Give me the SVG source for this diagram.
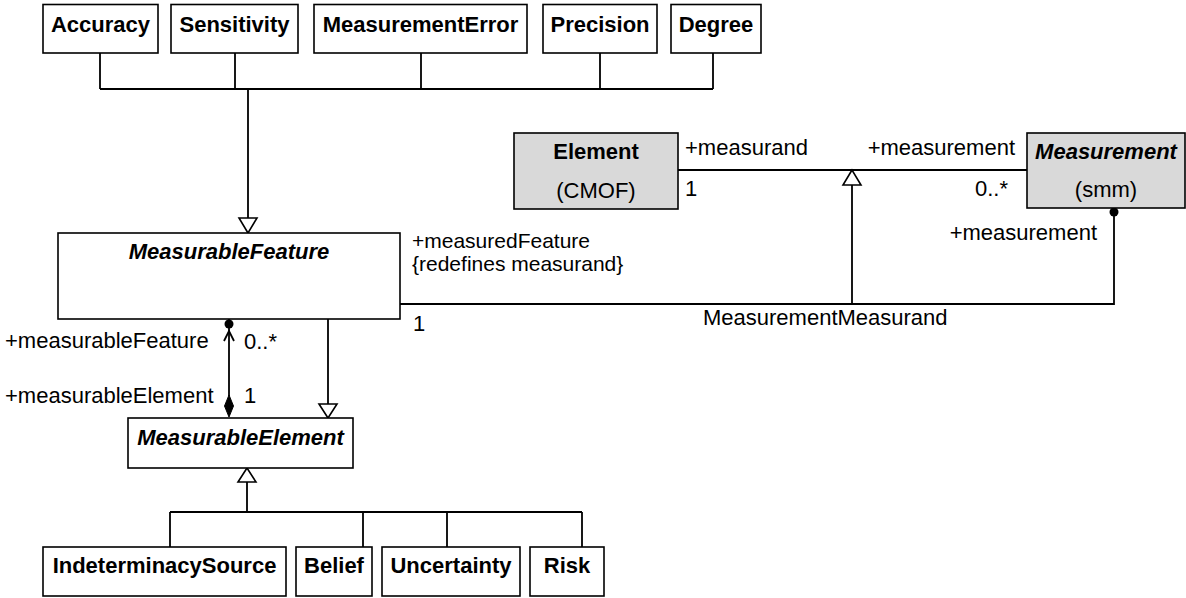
<svg xmlns="http://www.w3.org/2000/svg" width="1186" height="598" viewBox="0 0 1186 598">
<style>
.box{fill:#fff;stroke:#000;stroke-width:1.6}
.gray{fill:#d9d9d9;stroke:#000;stroke-width:1.6}
.t{font-family:"Liberation Sans",Arial,sans-serif;font-size:22px;fill:#000}
.b{font-weight:bold}
.i{font-style:italic}
.c{text-anchor:middle}
.e{text-anchor:end}
.ln{fill:none;stroke:#000;stroke-width:1.8}
.tri{fill:#fff;stroke:#000;stroke-width:1.6}
</style>
<rect width="1186" height="598" fill="#fff"/>
<g id="connectors">
<path class="ln" d="M100,53V89M235,53V89M421,53V89M600,53V89M713,53V89M100,89H713M248,89V218"/>
<polygon class="tri" points="248,233 239,218 257,218"/>
<path class="ln" d="M678,170H1027M852,185V304M400,304H1114V208"/>
<polygon class="tri" points="852,170 843,185 861,185"/>
<circle cx="1114" cy="212" r="4.5" fill="#000"/>
<path class="ln" d="M229,319V396"/>
<circle cx="229" cy="324" r="4.5" fill="#000"/>
<polyline class="ln" points="224,341 229,331 234,341"/>
<polygon points="229,395 233.5,406 229,417 224.5,406" fill="#000" stroke="#000" stroke-width="1"/>
<path class="ln" d="M328,319V404"/>
<polygon class="tri" points="328,418 319,404 337,404"/>
<polygon class="tri" points="247,468 238,482 256,482"/>
<path class="ln" d="M247,482V512M170,512H582M170,512V547M363,512V547M447,512V547M582,512V547"/>
<text class="t" x="685" y="155">+measurand</text>
<text class="t" x="685" y="196">1</text>
<text class="t e" x="1015" y="155">+measurement</text>
<text class="t" x="975" y="196">0..*</text>
<text class="t e" x="1097" y="240">+measurement</text>
<text class="t" x="412" y="248" style="font-size:21px">+measuredFeature</text>
<text class="t" x="412" y="271" style="font-size:21px">{redefines measurand}</text>
<text class="t" x="413" y="331">1</text>
<text class="t" x="703" y="325">MeasurementMeasurand</text>
<text class="t" x="5" y="348">+measurableFeature</text>
<text class="t" x="244" y="349">0..*</text>
<text class="t" x="5" y="403">+measurableElement</text>
<text class="t" x="244" y="403">1</text>
</g>
<g id="Accuracy"><rect class="box" x="43" y="4.5" width="115" height="48.5"/><text class="t b c" x="100.5" y="32">Accuracy</text></g>
<g id="Sensitivity"><rect class="box" x="171" y="4.5" width="127" height="48.5"/><text class="t b c" x="234.5" y="32">Sensitivity</text></g>
<g id="MeasurementError"><rect class="box" x="314" y="4.5" width="213" height="48.5"/><text class="t b c" x="420.5" y="32">MeasurementError</text></g>
<g id="Precision"><rect class="box" x="543" y="4.5" width="114" height="48.5"/><text class="t b c" x="600" y="32">Precision</text></g>
<g id="Degree"><rect class="box" x="671" y="4.5" width="90" height="48.5"/><text class="t b c" x="716" y="32">Degree</text></g>
<g id="Element"><rect class="gray" x="514" y="133" width="164" height="76"/><text class="t b c" x="596" y="159">Element</text><text class="t c" x="596" y="198">(CMOF)</text></g>
<g id="Measurement"><rect class="gray" x="1027" y="133" width="158" height="75"/><text class="t b i c" x="1106" y="159">Measurement</text><text class="t c" x="1106" y="197">(smm)</text></g>
<g id="MeasurableFeature"><rect class="box" x="58" y="233" width="342" height="86"/><text class="t b i c" x="229" y="259">MeasurableFeature</text></g>
<g id="MeasurableElement"><rect class="box" x="128" y="418" width="225" height="50"/><text class="t b i c" x="240.5" y="445">MeasurableElement</text></g>
<g id="IndeterminacySource"><rect class="box" x="43" y="547" width="243" height="49"/><text class="t b c" x="164.5" y="573">IndeterminacySource</text></g>
<g id="Belief"><rect class="box" x="296" y="547" width="76" height="49"/><text class="t b c" x="334" y="573">Belief</text></g>
<g id="Uncertainty"><rect class="box" x="382" y="547" width="138" height="49"/><text class="t b c" x="451" y="573">Uncertainty</text></g>
<g id="Risk"><rect class="box" x="530" y="547" width="74" height="49"/><text class="t b c" x="567" y="573">Risk</text></g>
</svg>
